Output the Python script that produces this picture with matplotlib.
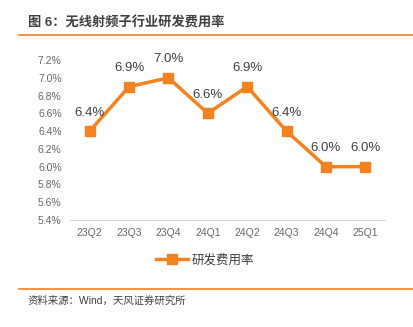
import matplotlib
matplotlib.use("Agg")
import matplotlib.pyplot as plt
from matplotlib.lines import Line2D
import matplotlib.ticker as mticker

plt.rcParams['font.family'] = ['Liberation Sans', 'Noto Sans CJK SC', 'DejaVu Sans']

categories = ["23Q2", "23Q3", "23Q4", "24Q1", "24Q2", "24Q3", "24Q4", "25Q1"]
values = [6.4, 6.9, 7.0, 6.6, 6.9, 6.4, 6.0, 6.0]
yticks = [5.4, 5.6, 5.8, 6.0, 6.2, 6.4, 6.6, 6.8, 7.0, 7.2]

orange = '#F5821F'
fig = plt.figure(figsize=(4.13, 3.27), dpi=100)
ax = fig.add_axes([0.1695, 0.3272, 0.7625, 0.4893])

x = list(range(len(categories)))
ax.plot(x, values, color=orange, lw=2.5, marker='s', ms=7, label='研发费用率')
for xi, v in zip(x, values):
    ax.annotate(f"{v:.1f}%", (xi, v), xytext=(0, 9), textcoords='offset points',
                ha='center', va='bottom', fontsize=9.5, color='#404040')

ax.set_xlim(-0.5, len(categories) - 0.5)
ax.set_ylim(5.4, 7.2)
ax.set_yticks(yticks)
ax.yaxis.set_major_formatter(mticker.FuncFormatter(lambda v, p: f"{v:.1f}%"))
ax.set_xticks(x)
ax.set_xticklabels(categories)
for s in ['top', 'right', 'left']:
    ax.spines[s].set_visible(False)
ax.spines['bottom'].set_color('#d9d9d9')
ax.tick_params(axis='both', length=0, labelsize=7.5, colors='#666666', pad=6)

leg = fig.legend(handles=[Line2D([0], [0], color=orange, lw=2.5, marker='s', ms=7)],
                 labels=['研发费用率'], loc='center', bbox_to_anchor=(205/413, 1 - 260/327),
                 frameon=False, fontsize=9, handlelength=2.6, handletextpad=0.3)
for t in leg.get_texts():
    t.set_color('#404040')

fig.text(28/413, 1 - 23/327, "图 6：无线射频子行业研发费用率", fontsize=9.5, fontweight='bold',
         color='#404040', ha='left', va='center')
fig.add_artist(Line2D([19/413, 1.0], [1 - 35/327, 1 - 35/327], color=orange, lw=1.2,
                      transform=fig.transFigure))
fig.add_artist(Line2D([19/413, 1.0], [1 - 289/327, 1 - 289/327], color=orange, lw=1.2,
                      transform=fig.transFigure))
fig.text(28/413, 1 - 301/327, "资料来源：Wind，天风证券研究所", fontsize=7.5,
         color='#404040', ha='left', va='center')

fig.savefig("out.png", dpi=100)
